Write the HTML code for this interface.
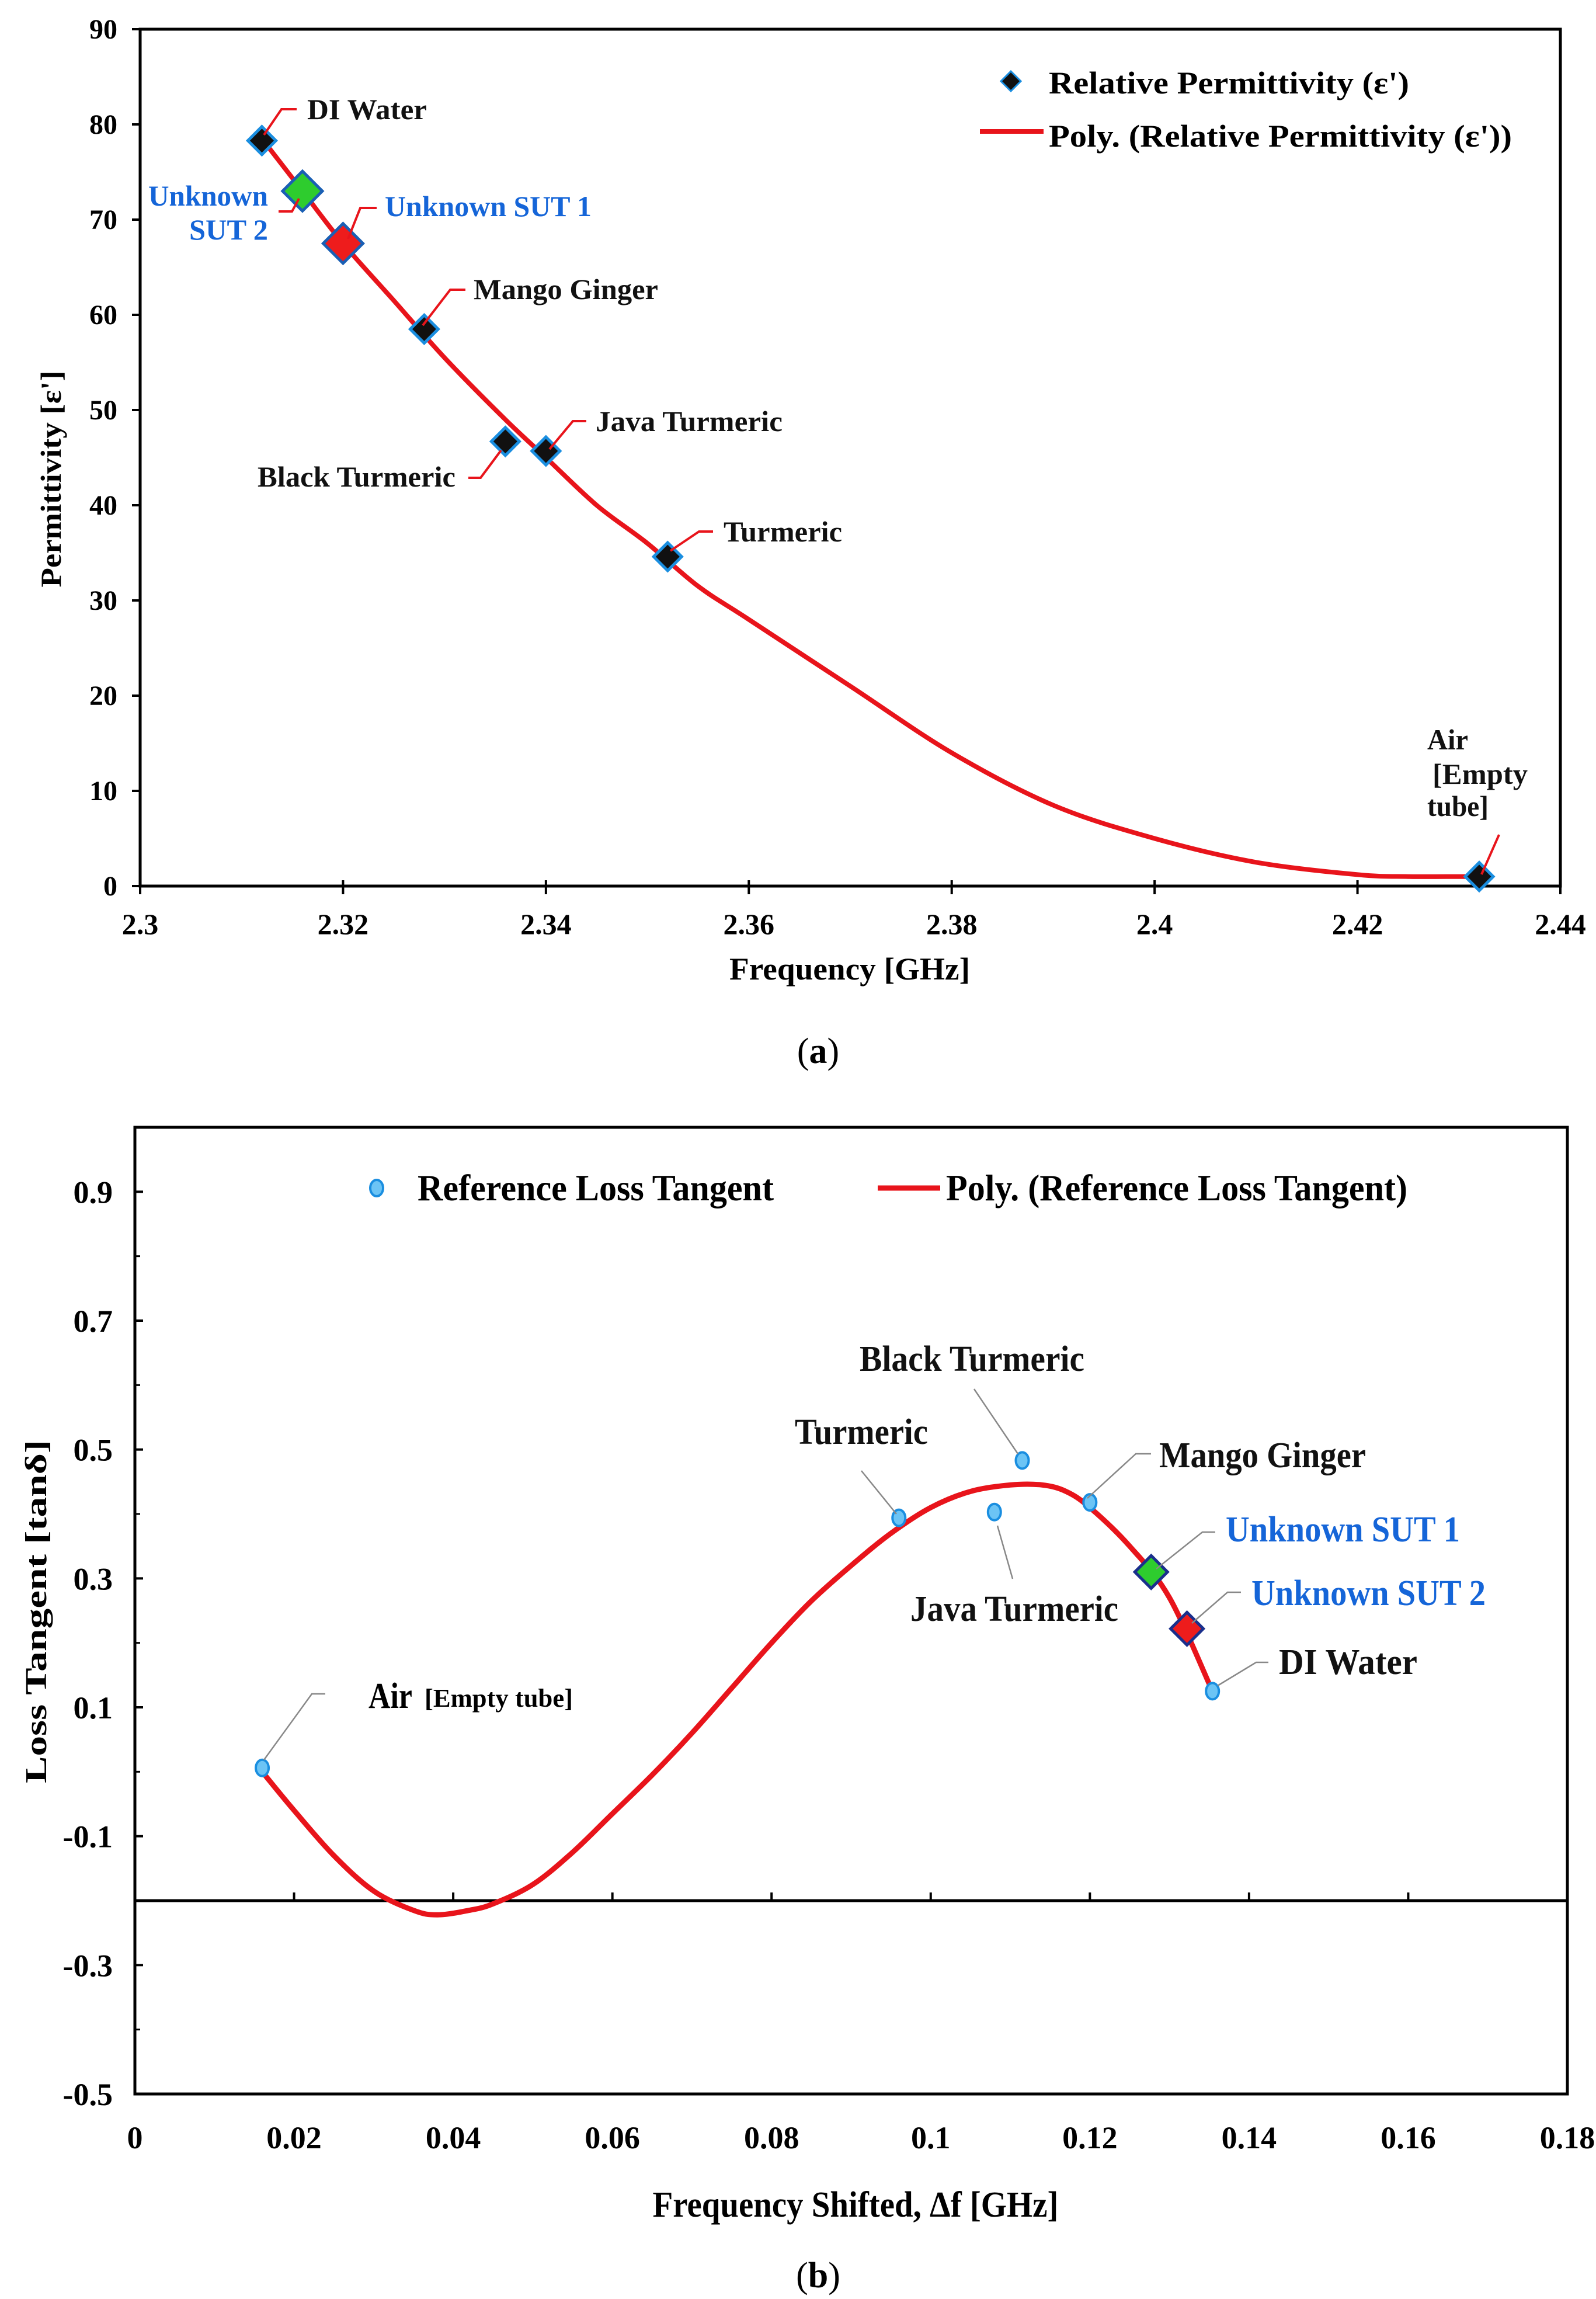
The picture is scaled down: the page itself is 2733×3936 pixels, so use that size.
<!DOCTYPE html>
<html><head><meta charset="utf-8"><style>
html,body{margin:0;padding:0;background:#fff}
svg{display:block}
text{font-family:"Liberation Serif",serif;font-weight:bold}
</style></head><body>
<svg id="s" width="2733" height="3936" viewBox="0 0 2733 3936" xmlns="http://www.w3.org/2000/svg">
<g id="ga"></g>
<g id="gb"></g>
<text x="1401" y="1820" font-size="62" text-anchor="middle" style="font-weight:normal">(<tspan style="font-weight:bold">a</tspan>)</text>
<text x="1401" y="3916" font-size="62" text-anchor="middle" style="font-weight:normal">(<tspan style="font-weight:bold">b</tspan>)</text>
</svg>
<script>
// ---------- Chart A data ----------
const aXTicks = [2.3,2.32,2.34,2.36,2.38,2.4,2.42,2.44];
const aXTickLabels = ["2.3","2.32","2.34","2.36","2.38","2.4","2.42","2.44"];
const aYTicks = [0,10,20,30,40,50,60,70,80,90];
const aNames = ["DI Water","Mango Ginger","Black Turmeric","Java Turmeric","Turmeric","Air"];
const aFreq = [2.312,2.328,2.336,2.340,2.352,2.432];
const aPerm = [78.3,58.5,46.7,45.7,34.6,1.0];
const aSutFreq = [2.320,2.316];
const aSutPerm = [67.5,73.0];
const aCurveX = [2.312,2.316,2.32,2.325,2.33,2.336,2.34,2.345,2.35,2.355,2.36,2.37,2.38,2.39,2.40,2.41,2.42,2.425,2.43,2.432];
const aCurveY = [78.5,73,67.5,61.5,55.5,49,45,40,36,31.5,28,21,14,8.5,5,2.5,1.2,1.0,1.0,1.0];
// ---------- Chart B data ----------
const bXTicks = [0,0.02,0.04,0.06,0.08,0.1,0.12,0.14,0.16,0.18];
const bXTickLabels = ["0","0.02","0.04","0.06","0.08","0.1","0.12","0.14","0.16","0.18"];
const bYTicks = [0.9,0.7,0.5,0.3,0.1,-0.1,-0.3,-0.5];
const bYMinor = [1.0,0.8,0.6,0.4,0.2,0,-0.2,-0.4];
const bNames = ["Air","Turmeric","Java Turmeric","Black Turmeric","Mango Ginger","DI Water"];
const bShift = [0.016,0.096,0.108,0.1115,0.12,0.1354];
const bLoss = [0.006,0.394,0.403,0.483,0.418,0.125];
const bSutShift = [0.1277,0.1322];
const bSutLoss = [0.31,0.222];
const bCurveX = [0.016,0.02,0.025,0.03,0.035,0.038,0.042,0.045,0.05,0.055,0.06,0.065,0.07,0.075,0.08,0.085,0.09,0.095,0.1,0.105,0.11,0.114,0.117,0.12,0.125,0.13,0.1354];
const bCurveY = [0.0,-0.06,-0.13,-0.185,-0.215,-0.222,-0.215,-0.205,-0.175,-0.125,-0.065,-0.005,0.06,0.13,0.2,0.265,0.32,0.37,0.41,0.435,0.445,0.445,0.435,0.41,0.35,0.27,0.125];

const NS="http://www.w3.org/2000/svg";
function mk(tag,attrs,parent,txt){const e=document.createElementNS(NS,tag);for(const k in attrs)e.setAttribute(k,attrs[k]);if(txt!==undefined)e.textContent=txt;parent.appendChild(e);return e;}
function smooth(pts){
  let d='M'+pts[0][0].toFixed(1)+','+pts[0][1].toFixed(1);
  for(let i=0;i<pts.length-1;i++){
    const p0=pts[Math.max(0,i-1)],p1=pts[i],p2=pts[i+1],p3=pts[Math.min(pts.length-1,i+2)];
    const c1=[p1[0]+(p2[0]-p0[0])/6,p1[1]+(p2[1]-p0[1])/6];
    const c2=[p2[0]-(p3[0]-p1[0])/6,p2[1]-(p3[1]-p1[1])/6];
    d+=` C${c1[0].toFixed(1)},${c1[1].toFixed(1)} ${c2[0].toFixed(1)},${c2[1].toFixed(1)} ${p2[0].toFixed(1)},${p2[1].toFixed(1)}`;
  }
  return d;
}

// ===== Chart A =====
const A={l:240,r:2672,t:50,b:1517,x0:2.3,x1:2.44,y0:0,y1:90};
const ax=v=>A.l+(v-A.x0)/(A.x1-A.x0)*(A.r-A.l);
const ay=v=>A.b-(v-A.y0)/(A.y1-A.y0)*(A.b-A.t);
const ga=document.getElementById('ga');
let e;
e=mk('rect',{x:A.l,y:A.t,width:A.r-A.l,height:A.b-A.t,fill:'none',stroke:'#000','stroke-width':5},ga);


aXTicks.forEach((v,i)=>{
  e=mk('line',{x1:ax(v),x2:ax(v),y1:A.b-10,y2:A.b+14,stroke:'#000','stroke-width':4},ga);
  
  
  e=mk('text',{x:ax(v),y:A.b+82,'font-size':50,'text-anchor':'middle'},ga,aXTickLabels[i]);
  
  
});
aYTicks.forEach(v=>{
  e=mk('line',{x1:A.l-14,x2:A.l,y1:ay(v),y2:ay(v),stroke:'#000','stroke-width':4},ga);
  
  
  e=mk('text',{x:201,y:ay(v)+16,'font-size':48,'text-anchor':'end'},ga,String(v));
  
  
});
e=mk('text',{x:1455,y:1677,'font-size':54,'text-anchor':'middle',textLength:412,lengthAdjust:'spacingAndGlyphs'},ga,'Frequency [GHz]');


e=mk('text',{x:0,y:0,'font-size':50,'text-anchor':'middle',transform:'translate(104,820) rotate(-90)',textLength:371,lengthAdjust:'spacingAndGlyphs'},ga,"Permittivity [ε']");


e=mk('path',{d:smooth(aCurveX.map((x,i)=>[ax(x),ay(aCurveY[i])])),fill:'none',stroke:'#e8141b','stroke-width':8,'stroke-linejoin':'round'},ga);


function diamond(g,cx,cy,h,fill,stroke,sw){return mk('path',{d:`M${cx},${cy-h} L${cx+h},${cy} L${cx},${cy+h} L${cx-h},${cy} Z`,fill:fill,stroke:stroke,'stroke-width':sw},g);}
aFreq.forEach((f,i)=>{
  e=diamond(ga,ax(f),ay(aPerm[i]),24,'#111','#1a8ee0',5);
  
  
});
const sutColorsA=['#ee1c1c','#2ecc2e'];
aSutFreq.forEach((f,i)=>{
  e=diamond(ga,ax(f),ay(aSutPerm[i]),34,sutColorsA[i],'#1a5fb4',5);
  
  
});
const labA=[
 ['DI Water',526,204,205,'#111','452,231 482,187 508,187'],
 ['Unknown',254,352,205,'#1565d8',null],
 ['SUT 2',324,410,135,'#1565d8','477,362 500,362 512,340'],
 ['Unknown SUT 1',659,370,354,'#1565d8','596,409 617,356 645,356'],
 ['Mango Ginger',811,512,316,'#111','724,557 771,496 797,496'],
 ['Java Turmeric',1020,738,320,'#111','941,769 981,721 1004,721'],
 ['Black Turmeric',441,833,339,'#111','802,818 823,818 858,771'],
 ['Turmeric',1239,927,203,'#111','1148,943 1197,910 1221,910'],
 ['Air',2444,1283,70,'#111',null],
 ['[Empty',2453,1342,163,'#111',null],
 ['tube]',2444,1397,105,'#111','2537,1497 2567,1429']
];
labA.forEach(L=>{
  e=mk('text',{x:L[1],y:L[2],'font-size':50,fill:L[4],textLength:L[3],lengthAdjust:'spacingAndGlyphs'},ga,L[0]);
  
  
  if(L[5]){e=mk('polyline',{points:L[5],fill:'none',stroke:'#e8141b','stroke-width':4},ga);
  
  }
});
e=diamond(ga,1731,139,17,'#111','#1a8ee0',3);


e=mk('text',{x:1796,y:160,'font-size':54,textLength:617,lengthAdjust:'spacingAndGlyphs'},ga,"Relative Permittivity (ε')");


e=mk('line',{x1:1678,x2:1787,y1:225,y2:225,stroke:'#e8141b','stroke-width':8},ga);


e=mk('text',{x:1796,y:251,'font-size':54,textLength:793,lengthAdjust:'spacingAndGlyphs'},ga,"Poly. (Relative Permittivity (ε'))");



// ===== Chart B =====
const B={l:231,r:2684,t:1930,b:3585,x0:0,x1:0.18,y0:-0.5,y1:1.0};
const bx=v=>B.l+(v-B.x0)/(B.x1-B.x0)*(B.r-B.l);
const by=v=>B.b-(v-B.y0)/(B.y1-B.y0)*(B.b-B.t);
const gb=document.getElementById('gb');
e=mk('rect',{x:B.l,y:B.t,width:B.r-B.l,height:B.b-B.t,fill:'none',stroke:'#000','stroke-width':5},gb);


e=mk('line',{x1:B.l,x2:B.r,y1:by(-0.2),y2:by(-0.2),stroke:'#000','stroke-width':5},gb);


bXTicks.forEach((v,i)=>{
  e=mk('line',{x1:bx(v),x2:bx(v),y1:by(-0.2)-14,y2:by(-0.2),stroke:'#000','stroke-width':4},gb);
  
  
  e=mk('text',{x:bx(v),y:3678,'font-size':54,'text-anchor':'middle'},gb,bXTickLabels[i]);
  
  
});
bYTicks.forEach(v=>{
  e=mk('line',{x1:B.l,x2:B.l+14,y1:by(v),y2:by(v),stroke:'#000','stroke-width':4},gb);
  
  
  e=mk('text',{x:193,y:by(v)+19,'font-size':54,'text-anchor':'end'},gb,String(v));
  
  
});
bYMinor.forEach(v=>{
  e=mk('line',{x1:B.l,x2:B.l+9,y1:by(v),y2:by(v),stroke:'#000','stroke-width':3},gb);
  
  
});
e=mk('text',{x:1465,y:3795,'font-size':62,'text-anchor':'middle',textLength:695,lengthAdjust:'spacingAndGlyphs'},gb,'Frequency Shifted, Δf [GHz]');


e=mk('text',{x:0,y:0,'font-size':52,'text-anchor':'middle',transform:'translate(79,2759) rotate(-90)',textLength:588,lengthAdjust:'spacingAndGlyphs'},gb,'Loss Tangent [tanδ]');


e=mk('path',{d:smooth(bCurveX.map((x,i)=>[bx(x),by(bCurveY[i])])),fill:'none',stroke:'#e8141b','stroke-width':9,'stroke-linejoin':'round'},gb);


bShift.forEach((s,i)=>{
  e=mk('ellipse',{cx:bx(s),cy:by(bLoss[i]),rx:11,ry:14,fill:'#6cc4f5',stroke:'#1a8ee0','stroke-width':4},gb);
  
  
});
const sutColorsB=['#2ecc2e','#ee1c1c'];
bSutShift.forEach((s,i)=>{
  e=diamond(gb,bx(s),by(bSutLoss[i]),28,sutColorsB[i],'#1a2f8c',5);
  
  
});
const labB=[
 ['Turmeric',1361,2472,228,'#111','1475,2518 1535,2592'],
 ['Black Turmeric',1472,2347,385,'#111','1668,2378 1743,2489'],
 ['Java Turmeric',1559,2775,356,'#111','1708,2612 1734,2703'],
 ['Mango Ginger',1985,2512,354,'#111','1862,2565 1945,2489 1971,2489'],
 ['Unknown SUT 1',2099,2639,401,'#1565d8','1980,2686 2059,2623 2081,2623'],
 ['Unknown SUT 2',2143,2748,401,'#1565d8','2041,2779 2102,2726 2125,2726'],
 ['DI Water',2190,2866,237,'#111','2085,2886 2151,2846 2172,2846']
];
labB.forEach(L=>{
  e=mk('text',{x:L[1],y:L[2],'font-size':62,fill:L[4],textLength:L[3],lengthAdjust:'spacingAndGlyphs'},gb,L[0]);
  
  
  e=mk('polyline',{points:L[5],fill:'none',stroke:'#888','stroke-width':2.5},gb);
  
  
});
e=mk('text',{x:631,y:2924,'font-size':62,textLength:75,lengthAdjust:'spacingAndGlyphs'},gb,'Air');


e=mk('text',{x:727,y:2922,'font-size':44,textLength:254,lengthAdjust:'spacingAndGlyphs'},gb,'[Empty tube]');


e=mk('polyline',{points:'452,3013 534,2900 557,2900',fill:'none',stroke:'#888','stroke-width':2.5},gb);


e=mk('ellipse',{cx:645,cy:2034,rx:11,ry:14,fill:'#6cc4f5',stroke:'#1a8ee0','stroke-width':4},gb);


e=mk('text',{x:715,y:2055,'font-size':64,textLength:610,lengthAdjust:'spacingAndGlyphs'},gb,'Reference Loss Tangent');


e=mk('line',{x1:1503,x2:1610,y1:2034,y2:2034,stroke:'#e8141b','stroke-width':9},gb);


e=mk('text',{x:1620,y:2055,'font-size':64,textLength:790,lengthAdjust:'spacingAndGlyphs'},gb,'Poly. (Reference Loss Tangent)');


</script>
</body></html>
